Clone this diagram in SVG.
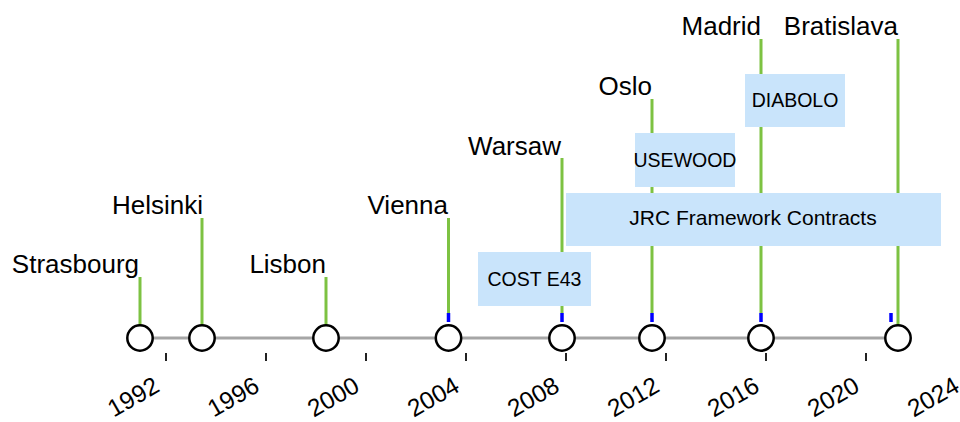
<svg xmlns="http://www.w3.org/2000/svg" width="960" height="422" viewBox="0 0 960 422">
<style>
.bg{fill:#ffffff}
.axis{stroke:#a6a6a6;stroke-width:3;fill:none}
.tick{stroke:#222222;stroke-width:2}
.stem{stroke:#7dc242;stroke-width:3;fill:none}
.mark{stroke:#0000ff;stroke-width:3.5;fill:none}
.dot{fill:#ffffff;stroke:#000000;stroke-width:2.5}
.city{font-family:"Liberation Sans",Arial,sans-serif;font-size:26px;fill:#000000;text-anchor:end}
.year{font-family:"Liberation Sans",Arial,sans-serif;font-size:24.5px;fill:#000000;text-anchor:end}
.box{fill:#c9e4fb}
.boxtext{font-family:"Liberation Sans",Arial,sans-serif;font-size:19.5px;fill:#000000;text-anchor:middle}
</style>
<rect class="bg" x="0" y="0" width="960" height="422"/>
<g id="axis">
<line class="axis" x1="140" y1="338" x2="898" y2="338"/>
<g id="ticks">
<line class="tick" x1="166" y1="353" x2="166" y2="361"/>
<line class="tick" x1="266" y1="353" x2="266" y2="361"/>
<line class="tick" x1="366" y1="353" x2="366" y2="361"/>
<line class="tick" x1="466" y1="353" x2="466" y2="361"/>
<line class="tick" x1="566" y1="353" x2="566" y2="361"/>
<line class="tick" x1="666" y1="353" x2="666" y2="361"/>
<line class="tick" x1="766" y1="353" x2="766" y2="361"/>
<line class="tick" x1="866" y1="353" x2="866" y2="361"/>
</g>
<g id="years">
<text class="year" transform="translate(161 390.5) rotate(-30)">1992</text>
<text class="year" transform="translate(261 390.5) rotate(-30)">1996</text>
<text class="year" transform="translate(361 390.5) rotate(-30)">2000</text>
<text class="year" transform="translate(461 390.5) rotate(-30)">2004</text>
<text class="year" transform="translate(561 390.5) rotate(-30)">2008</text>
<text class="year" transform="translate(661 390.5) rotate(-30)">2012</text>
<text class="year" transform="translate(761 390.5) rotate(-30)">2016</text>
<text class="year" transform="translate(861 390.5) rotate(-30)">2020</text>
<text class="year" transform="translate(961 390.5) rotate(-30)">2024</text>
</g>
</g>
<g id="connectors">
<line class="stem" x1="140" y1="277" x2="140" y2="325"/>
<line class="stem" x1="202" y1="218" x2="202" y2="325"/>
<line class="stem" x1="326" y1="277" x2="326" y2="325"/>
<line class="stem" x1="448.5" y1="218" x2="448.5" y2="313"/>
<line class="stem" x1="562" y1="158" x2="562" y2="313"/>
<line class="stem" x1="652" y1="99" x2="652" y2="313"/>
<line class="stem" x1="761" y1="39" x2="761" y2="313"/>
<line class="stem" x1="898" y1="39" x2="898" y2="325"/>
<line class="mark" x1="448.5" y1="313" x2="448.5" y2="322"/>
<line class="mark" x1="562" y1="313" x2="562" y2="322"/>
<line class="mark" x1="652" y1="313" x2="652" y2="322"/>
<line class="mark" x1="761" y1="313" x2="761" y2="322"/>
<line class="mark" x1="891" y1="313" x2="891" y2="322"/>
</g>
<g id="strasbourg"><circle class="dot" cx="140" cy="338" r="12.7"/><text class="city" x="139" y="273">Strasbourg</text></g>
<g id="helsinki"><circle class="dot" cx="202" cy="338" r="12.7"/><text class="city" x="203" y="214">Helsinki</text></g>
<g id="lisbon"><circle class="dot" cx="326" cy="338" r="12.7"/><text class="city" x="326" y="273">Lisbon</text></g>
<g id="vienna"><circle class="dot" cx="448.5" cy="338" r="12.7"/><text class="city" x="448" y="214">Vienna</text></g>
<g id="warsaw"><circle class="dot" cx="562" cy="338" r="12.7"/><text class="city" x="561" y="155">Warsaw</text></g>
<g id="oslo"><circle class="dot" cx="652" cy="338" r="12.7"/><text class="city" x="652" y="95">Oslo</text></g>
<g id="madrid"><circle class="dot" cx="761" cy="338" r="12.7"/><text class="city" x="761" y="35">Madrid</text></g>
<g id="bratislava"><circle class="dot" cx="898" cy="338" r="12.7"/><text class="city" x="898" y="35">Bratislava</text></g>
<g id="cost-e43"><rect class="box" x="478" y="252" width="113" height="54"/><text class="boxtext" x="534.5" y="286">COST E43</text></g>
<g id="jrc"><rect class="box" x="566" y="193" width="375" height="53"/><text class="boxtext" x="753" y="225" style="font-size:21px">JRC Framework Contracts</text></g>
<g id="usewood"><rect class="box" x="635" y="133" width="100" height="54"/><text class="boxtext" x="685" y="167">USEWOOD</text></g>
<g id="diabolo"><rect class="box" x="745" y="74" width="100" height="53"/><text class="boxtext" x="795" y="107">DIABOLO</text></g>
</svg>
